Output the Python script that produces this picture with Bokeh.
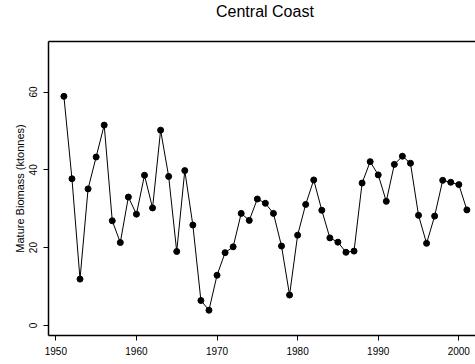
from bokeh.plotting import figure
from bokeh.models import Range1d, FixedTicker, LinearAxis
from bokeh.embed import file_html
from bokeh.resources import INLINE

years = list(range(1951, 2002))
biomass = [
    58.9, 37.7, 11.9, 35.1, 43.3, 51.5, 26.9, 21.3, 33.0, 28.6,
    38.6, 30.2, 50.2, 38.3, 19.0, 39.8, 25.8, 6.4, 3.9, 12.9,
    18.7, 20.2, 28.8, 27.0, 32.5, 31.4, 28.8, 20.4, 7.8, 23.2,
    31.1, 37.4, 29.6, 22.5, 21.4, 18.8, 19.1, 36.6, 42.1, 38.7,
    31.9, 41.4, 43.5, 41.7, 28.3, 21.1, 28.1, 37.3, 36.8, 36.2,
    29.7,
]
x_ticks = [1950, 1960, 1970, 1980, 1990, 2000]
y_ticks = [0, 20, 40, 60]
title_text = "Central Coast"
y_label = "Mature Biomass (ktonnes)"

FONT = "Liberation Sans"
W, H = 475, 364
BL, BT, BB = 48, 41, 29

p = figure(width=W, height=H, output_backend="svg", toolbar_location=None,
           x_range=Range1d(1949.09, 2002.07), y_range=Range1d(-2.6, 73.0),
           min_border_left=BL, min_border_right=0, min_border_top=BT,
           min_border_bottom=BB, x_axis_location="below")
p.outline_line_color = None
p.xgrid.visible = False
p.ygrid.visible = False
p.background_fill_color = "white"
p.border_fill_color = "white"

for ax in (p.xaxis[0], p.yaxis[0]):
    ax.axis_line_color = "black"
    ax.axis_line_width = 1.5
    ax.major_tick_line_color = "black"
    ax.major_tick_in = 0
    ax.major_tick_out = 5
    ax.minor_tick_line_color = None
    ax.major_label_text_font = FONT
    ax.major_label_text_font_size = "10px"
    ax.major_label_text_color = "black"

p.xaxis[0].ticker = FixedTicker(ticks=x_ticks)
p.xaxis[0].major_label_standoff = 6
p.yaxis[0].ticker = FixedTicker(ticks=y_ticks)
p.yaxis[0].major_label_orientation = "vertical"
p.yaxis[0].major_label_standoff = 6
p.yaxis[0].axis_label = y_label
p.yaxis[0].axis_label_text_font = FONT
p.yaxis[0].axis_label_text_font_size = "11px"
p.yaxis[0].axis_label_text_font_style = "normal"
p.yaxis[0].axis_label_text_color = "black"
p.yaxis[0].axis_label_standoff = 1

# top edge of the box (no ticks, no labels); its blank axis label only
# reserves the gap between the box and the title
top = LinearAxis(ticker=FixedTicker(ticks=[]), major_label_text_font_size="0px",
                 axis_line_width=1.5, axis_line_color="black",
                 major_tick_line_color=None, minor_tick_line_color=None,
                 major_tick_in=0, major_tick_out=0, major_label_standoff=0,
                 axis_label=" ", axis_label_text_font_size="1px",
                 axis_label_text_alpha=0, axis_label_standoff=18)
p.add_layout(top, "above")

p.title.text = title_text
p.title.text_font = FONT
p.title.text_font_size = "16px"
p.title.text_font_style = "normal"
p.title.text_color = "black"
p.title.align = "left"
p.title.offset = 167.5
p.title.standoff = 0

p.line(years, biomass, line_color="black", line_width=1)
p.scatter(years, biomass, size=6, fill_color="black", line_color="black")

open("out.html", "w").write(file_html(p, INLINE))
